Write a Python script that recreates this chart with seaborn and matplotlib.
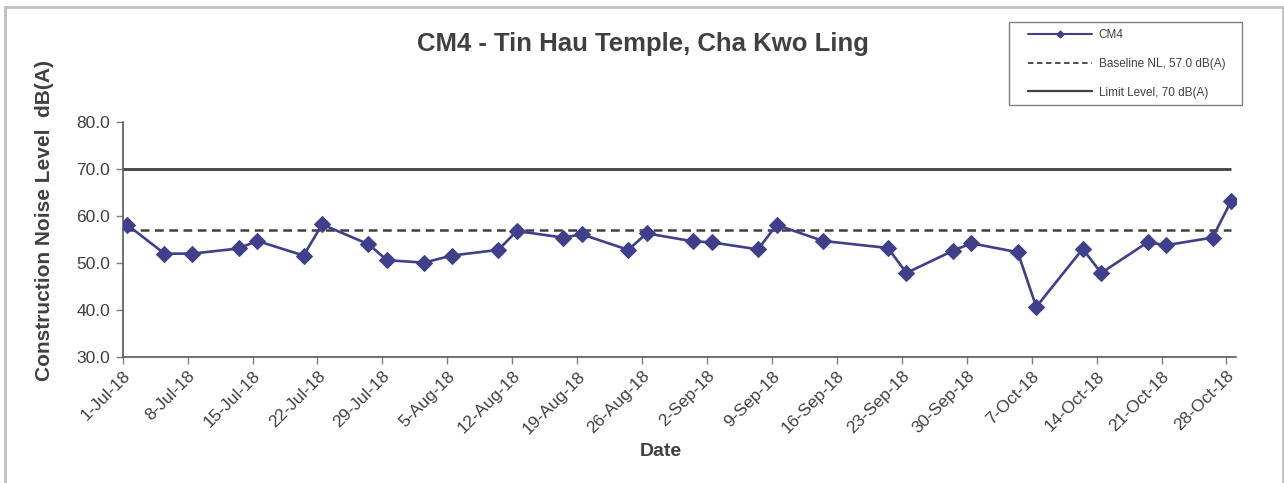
import pandas as pd
import numpy as np
import matplotlib
matplotlib.use('Agg')
import matplotlib.pyplot as plt
import seaborn as sns
from matplotlib.lines import Line2D
from matplotlib.patches import Rectangle
from matplotlib.ticker import FormatStrFormatter

# measurement dates and levels, dB(A)
dates = ['2018-07-01', '2018-07-05', '2018-07-08', '2018-07-13', '2018-07-15',
         '2018-07-20', '2018-07-22', '2018-07-27', '2018-07-29', '2018-08-02',
         '2018-08-05', '2018-08-10', '2018-08-12', '2018-08-17', '2018-08-19',
         '2018-08-24', '2018-08-26', '2018-08-31', '2018-09-02', '2018-09-07',
         '2018-09-09', '2018-09-14', '2018-09-21', '2018-09-23', '2018-09-28',
         '2018-09-30', '2018-10-05', '2018-10-07', '2018-10-12', '2018-10-14',
         '2018-10-19', '2018-10-21', '2018-10-26', '2018-10-28']
cm4 = [58.1, 52.0, 52.0, 53.1, 54.7,
       51.6, 58.2, 54.0, 50.6, 50.1,
       51.6, 52.8, 56.8, 55.4, 56.1,
       52.8, 56.3, 54.6, 54.4, 52.9,
       58.1, 54.7, 53.2, 47.9, 52.6,
       54.2, 52.3, 40.7, 53.0, 47.9,
       54.4, 53.8, 55.4, 63.1]
baseline = 57.0
limit = 70.0
y_ticks = [30, 40, 50, 60, 70, 80]

W, H = 1284, 483
text_col = '#404040'
line_col = '#3f3f8c'
ref_col = '#404040'

df = pd.DataFrame({'date': pd.to_datetime(dates) + pd.Timedelta(hours=12), 'level': cm4})

sns.set_style('ticks')
plt.rcParams['font.family'] = ['Liberation Sans', 'DejaVu Sans']

fig = plt.figure(figsize=(W / 100, H / 100), dpi=100)
ax = fig.add_axes([122.7 / W, 1 - 357.3 / H, (1235.7 - 122.7) / W, (357.3 - 121.7) / H])

x0 = pd.Timestamp('2018-07-01')
x1 = pd.Timestamp('2018-10-29')
xend = df['date'].iloc[-1]

ax.plot([x0, xend], [limit, limit], color=ref_col, lw=2.0, solid_capstyle='butt', zorder=1)
ax.plot([x0 + pd.Timedelta(hours=8), xend], [baseline, baseline], color=ref_col, lw=1.8,
        ls=(0, (3.5, 2.2)), zorder=1)
sns.lineplot(data=df, x='date', y='level', ax=ax, color=line_col, lw=1.9,
             marker='D', markersize=8, markeredgecolor=line_col, zorder=3)

ax.set_xlim(x0, x1)
ax.set_ylim(30, 80)
ax.set_yticks(y_ticks)
ax.yaxis.set_major_formatter(FormatStrFormatter('%.1f'))
ticks = pd.date_range(x0, pd.Timestamp('2018-10-28'), freq='7D')
ax.set_xticks(ticks)
ax.set_xticklabels([f'{t.day}-{t.strftime("%b")}-{t.strftime("%y")}' for t in ticks],
                   rotation=45, ha='right', rotation_mode='anchor')
ax.tick_params(axis='both', direction='out', length=5, width=1, color='#808080',
               labelsize=12.5, labelcolor=text_col, pad=4, bottom=True, left=True)
ax.tick_params(axis='x', pad=3)
for s in ['top', 'right']:
    ax.spines[s].set_visible(False)
for s in ['left', 'bottom']:
    ax.spines[s].set_color('#595959')
    ax.spines[s].set_linewidth(1.2)
ax.set_xlabel('')
ax.set_ylabel('')

fig.text(643 / W, 1 - 44 / H, 'CM4 - Tin Hau Temple, Cha Kwo Ling', ha='center', va='center',
         fontsize=18.5, fontweight='bold', color=text_col)
fig.text(661 / W, 1 - 451 / H, 'Date', ha='center', va='center',
         fontsize=14, fontweight='bold', color=text_col)
fig.text(45 / W, 1 - 221 / H, 'Construction Noise Level  dB(A)', ha='center', va='center',
         rotation=90, fontsize=15, fontweight='bold', color=text_col)

handles = [Line2D([], [], color=line_col, lw=1.5, marker='D', markersize=3.5),
           Line2D([], [], color=ref_col, lw=1.3, ls=(0, (3, 2))),
           Line2D([], [], color=ref_col, lw=1.6)]
labels = ['CM4', 'Baseline NL, 57.0 dB(A)', 'Limit Level, 70 dB(A)']
leg = fig.legend(handles, labels, loc='upper left', bbox_to_anchor=(1028 / W, 1 - 29 / H),
                 fontsize=8.5, frameon=False,
                 handlelength=5.4, handletextpad=0.6, labelspacing=1.42,
                 borderpad=0, borderaxespad=0, numpoints=1)
for t in leg.get_texts():
    t.set_color(text_col)

# legend box
fig.patches.append(Rectangle((1009 / W, 1 - 105 / H), (1242 - 1009) / W, (105 - 22) / H,
                             transform=fig.transFigure, fill=False, edgecolor='#808080', lw=1.0))
# chart area border
fig.patches.append(Rectangle((5 / W, -0.05), (1283 - 5) / W, 1.05 - 7 / H, transform=fig.transFigure,
                             fill=False, edgecolor='#c0c0c0', lw=2))

fig.savefig('out.png', dpi=100)
